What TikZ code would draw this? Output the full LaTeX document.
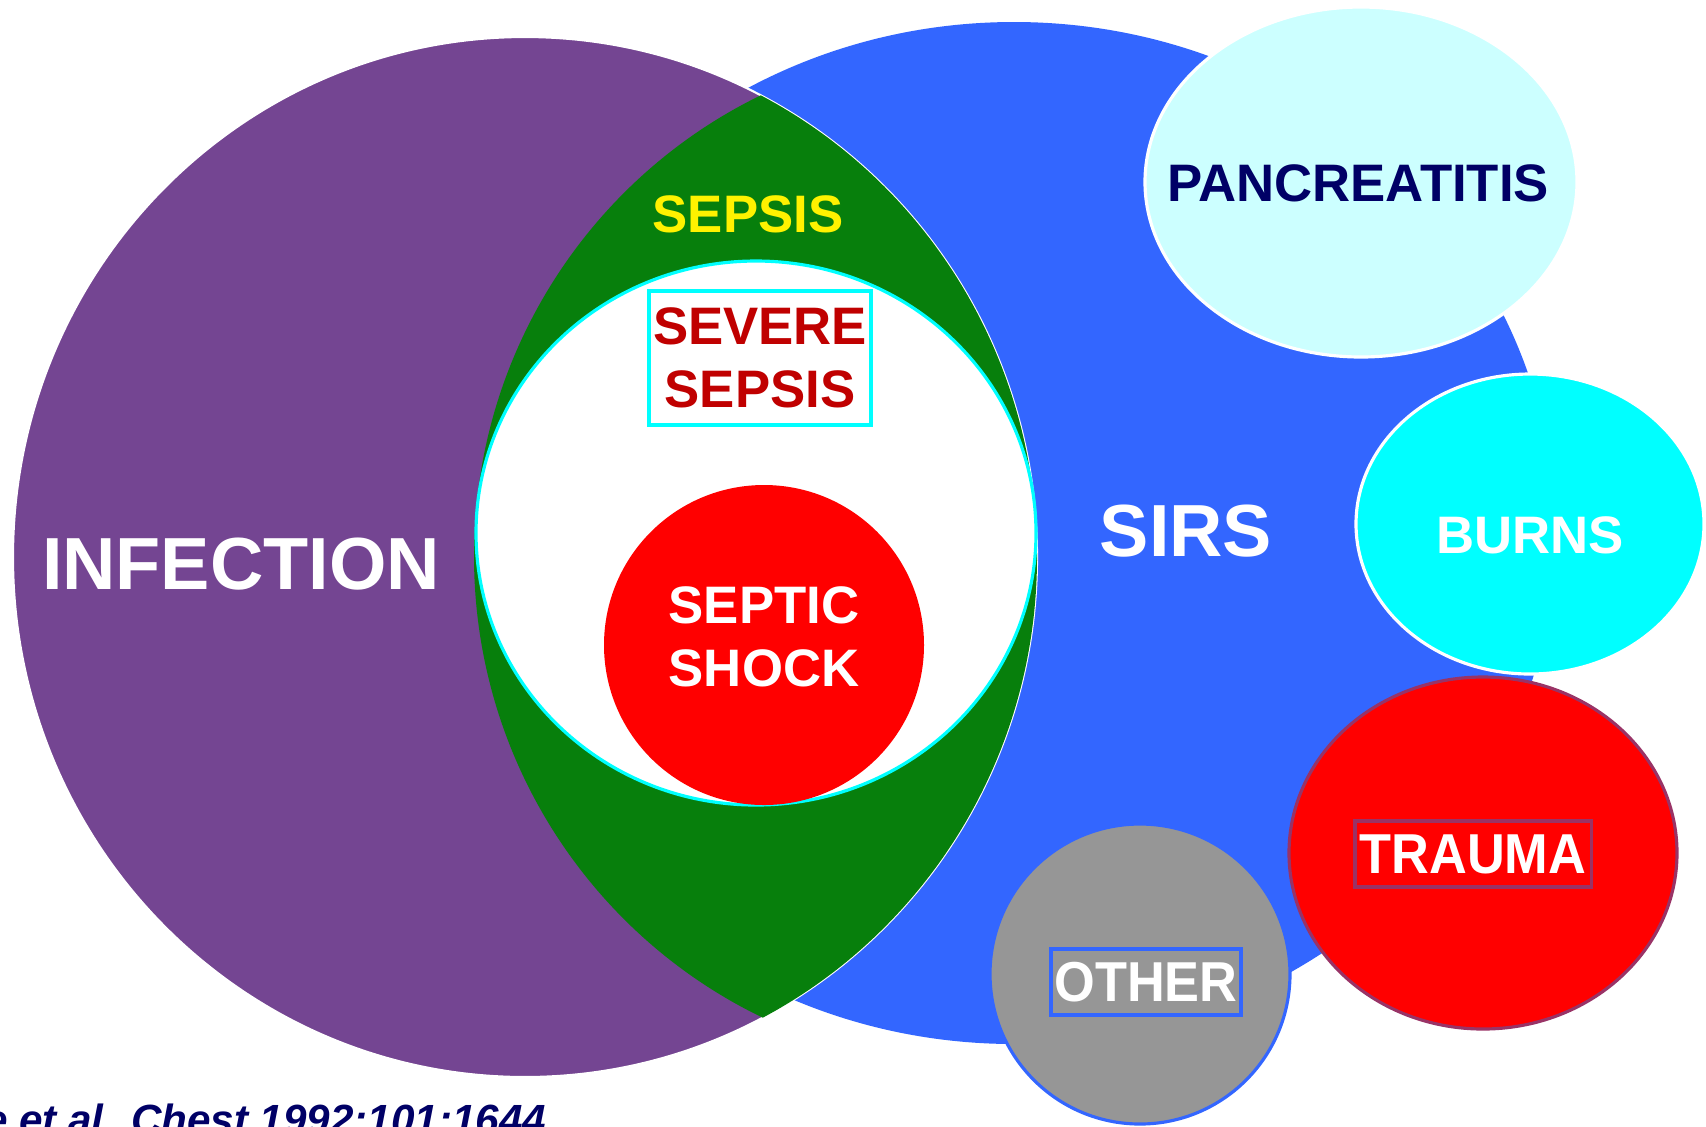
\documentclass[tikz,border=0pt]{standalone}
\usepackage{fontspec}
\setmainfont{Liberation Sans}
\newfontfamily\narrowfont[FakeStretch=0.93]{Liberation Sans}
\definecolor{infpurple}{HTML}{744592}
\definecolor{sirsblue}{HTML}{3366FF}
\definecolor{sepgreen}{HTML}{077F0C}
\definecolor{sevred}{HTML}{C00000}
\definecolor{pancyan}{HTML}{CCFFFF}
\definecolor{burncyan}{HTML}{00FFFF}
\definecolor{navy}{HTML}{000066}
\definecolor{othergray}{HTML}{969696}
\definecolor{traumaline}{HTML}{993366}
\begin{document}
\begin{tikzpicture}[x=0.01cm,y=-0.01cm,
        big/.style={text=white,font=\bfseries\fontsize{21}{25}\selectfont},
        mid/.style={align=center,font=\bfseries\fontsize{15}{18}\selectfont},
        tag/.style={draw,line width=0.9pt,inner sep=0pt,text=white,font=\narrowfont\bfseries\fontsize{16}{19}\selectfont}]
        \useasboundingbox (0,0) rectangle (1706,1126);

        \fill [sirsblue] (1014,533) ellipse [x radius=541,y radius=511];
        \filldraw [fill=infpurple,draw=white,line width=0.6pt] (525,557) ellipse [x radius=512,y radius=520];
        \begin{scope}
            \clip (525,557) ellipse [x radius=512,y radius=520];
            \fill [sepgreen] (980,556) ellipse [x radius=506,y radius=511];
        \end{scope}
        \filldraw [fill=white,draw=burncyan,line width=0.9pt] (756,533) ellipse [x radius=280,y radius=272];
        \fill [red] (764,645) ellipse [x radius=160,y radius=160];

        \filldraw [fill=pancyan,draw=white,line width=0.9pt] (1361,182) ellipse [x radius=216,y radius=175];
        \filldraw [fill=burncyan,draw=white,line width=0.9pt] (1530,524) ellipse [x radius=174,y radius=150];
        \filldraw [fill=red,draw=traumaline,line width=0.9pt] (1483,853) ellipse [x radius=194,y radius=176];
        \filldraw [fill=othergray,draw=sirsblue,line width=0.9pt] (1140,974) ellipse [x radius=150,y radius=150];

        \draw (241,564) node (infection) [big] {INFECTION};
        \draw (1186,531) node (sirs) [big] {SIRS};
        \draw (748,214) node (sepsis) [mid,text=yellow] {SEPSIS};
        \draw (760,358) node (severe) [mid,text=sevred,draw=burncyan,line width=0.9pt,minimum width=2.22cm,minimum height=1.34cm,inner sep=0pt] {SEVERE\\SEPSIS};
        \draw (764,637) node (shock) [mid,text=white] {SEPTIC\\SHOCK};
        \draw (1358,183) node (pancreatitis) [mid,text=navy] {PANCREATITIS};
        \draw (1530,535) node (burns) [mid,text=white] {BURNS};
        \draw (1473,854) node (trauma) [tag,draw=traumaline,minimum width=2.36cm,minimum height=0.66cm] {TRAUMA};
        \draw (1146,982) node (other) [tag,draw=sirsblue,minimum width=1.90cm,minimum height=0.66cm] {OTHER};

        \begin{scope}
            \clip (0,0) rectangle (1706,1126);
            \draw (547,1134) node (cite) [anchor=base east,inner sep=0pt,text=navy,font=\bfseries\itshape\fontsize{12}{14}\selectfont] {Bone et al. Chest 1992;101:1644};
        \end{scope}
    \end{tikzpicture}
\end{document}
